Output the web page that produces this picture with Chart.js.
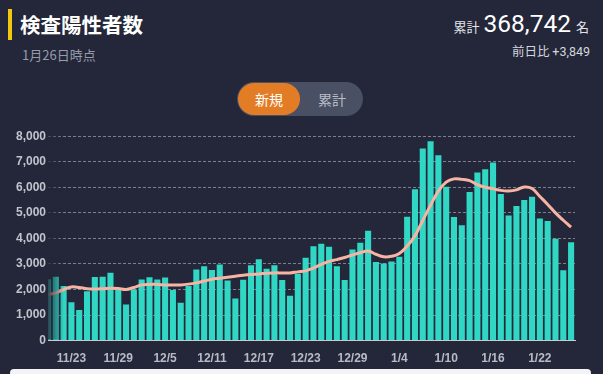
<!DOCTYPE html>
<html lang="ja">
<head>
<meta charset="utf-8">
<script src="https://cdn.jsdelivr.net/npm/chart.js@4/dist/chart.umd.min.js"></script>
<style>
  html, body { margin: 0; padding: 0; }
  body {
    width: 603px; height: 374px; overflow: hidden; position: relative;
    background: #232739;
    font-family: "Noto Sans CJK JP", "Noto Sans", sans-serif;
  }
  .bar { position: absolute; left: 8px; top: 9px; width: 4px; height: 31px; background: #f2c80f; }
  .title { position: absolute; left: 20px; top: 8px; font-size: 20.5px; font-weight: bold; color: #fff; line-height: 32px; }
  .date { position: absolute; left: 22px; top: 46px; font-size: 13px; color: #979cab; line-height: 18px; }
  .total { position: absolute; right: 14px; top: 8px; color: #fff; white-space: nowrap; line-height: 32px; }
  .total .s { font-size: 13px; color: #e3e5ea; }
  .total .n { font-family: Roboto, "Liberation Sans", sans-serif; font-size: 24.5px; margin: 0 5px 0 4px; }
  .diff { position: absolute; right: 13px; top: 41px; font-size: 12.5px; color: #d3d6dd; line-height: 20px; }
  .diff span { font-family: Roboto, "Liberation Sans", sans-serif; }
  .toggle { position: absolute; left: 237px; top: 82px; width: 126px; height: 34px; border-radius: 17px; background: #4a5064; }
  .toggle div { position: absolute; top: 1px; height: 32px; line-height: 32px; font-size: 14px; text-align: center; border-radius: 16px; }
  .on { left: 1px; width: 62px; background: #e27d25; color: #fff; }
  .off { left: 66px; width: 58px; color: #b9bdc8; }
  .wrap { position: absolute; left: 0; top: 127px; width: 603px; height: 246px; }
  .foot { position: absolute; left: 10px; top: 369px; width: 581px; height: 10px; background: #f3f3f6; border-radius: 4px 4px 0 0; }
</style>
</head>
<body>
<div class="bar"></div>
<div class="title">検査陽性者数</div>
<div class="date">1月26日時点</div>
<div class="total"><span class="s">累計</span><span class="n">368,742</span><span class="s">名</span></div>
<div class="diff">前日比 <span>+3,849</span></div>
<div class="toggle"><div class="on">新規</div><div class="off">累計</div></div>
<div class="wrap"><canvas id="chart"></canvas></div>
<div class="foot"></div>
<script>
const dates = ['11/20', '11/21', '11/22', '11/23', '11/24', '11/25', '11/26', '11/27', '11/28', '11/29', '11/30',
  '12/1', '12/2', '12/3', '12/4', '12/5', '12/6', '12/7', '12/8', '12/9', '12/10', '12/11', '12/12', '12/13',
  '12/14', '12/15', '12/16', '12/17', '12/18', '12/19', '12/20', '12/21', '12/22', '12/23', '12/24', '12/25',
  '12/26', '12/27', '12/28', '12/29', '12/30', '12/31', '1/1', '1/2', '1/3', '1/4', '1/5', '1/6', '1/7', '1/8',
  '1/9', '1/10', '1/11', '1/12', '1/13', '1/14', '1/15', '1/16', '1/17', '1/18', '1/19', '1/20', '1/21', '1/22',
  '1/23', '1/24', '1/25', '1/26'];

const cases = [2400, 2500, 2140, 1500, 1200, 1930, 2490, 2500, 2660, 2010, 1410,
  2000, 2390, 2480, 2390, 2470, 1980, 1480, 2140, 2780, 2910, 2760, 2980, 2350,
  1650, 2380, 2950, 3180, 2810, 2950, 2370, 1760, 2620, 3240, 3690, 3790,
  3670, 2910, 2370, 3570, 3830, 4300, 3080, 3020, 3100, 3280, 4850, 5920, 7520, 7800,
  7250, 6020, 4840, 4510, 5820, 6580, 6710, 6970, 5740, 4900, 5270, 5500, 5630, 4780,
  4680, 3990, 2750, 3849];

// 7日移動平均
const average = [1800, 1870, 2000, 2100, 2080, 2030, 2020, 2030, 2050, 2040, 2000,
  2080, 2180, 2200, 2200, 2180, 2180, 2180, 2210, 2260, 2330, 2400, 2440, 2480,
  2520, 2560, 2590, 2610, 2640, 2650, 2650, 2650, 2690, 2730, 2840, 2980,
  3100, 3170, 3250, 3350, 3440, 3510, 3380, 3280, 3300, 3410, 3700, 4100, 4700, 5300,
  5850, 6200, 6330, 6310, 6260, 6100, 6000, 5940, 5880, 5860, 5900, 6010, 5950, 5640,
  5330, 5000, 4710, 4440];

const tickDays = ['11/23', '11/29', '12/5', '12/11', '12/17', '12/23', '12/29', '1/4', '1/10', '1/16', '1/22'];
const yTicks = [0, 1000, 2000, 3000, 4000, 5000, 6000, 7000, 8000];

const bg = '35,39,57';

// left edge fade (scrolled chart)
const fade = {
  id: 'fade',
  afterDatasetsDraw(chart) {
    const { ctx, chartArea: a } = chart;
    const g = ctx.createLinearGradient(a.left, 0, a.left + 16, 0);
    g.addColorStop(0, 'rgba(' + bg + ',0.8)');
    g.addColorStop(1, 'rgba(' + bg + ',0)');
    ctx.save();
    ctx.fillStyle = g;
    ctx.fillRect(a.left - 1, a.top, 17, a.bottom - a.top - 1);
    ctx.restore();
  }
};

const ctx = document.getElementById('chart');
new Chart(ctx, {
  type: 'bar',
  data: {
    datasets: [{
      type: 'line',
      label: '7日移動平均',
      data: average.map((v, i) => ({ x: i, y: v })),
      borderColor: '#f7b4a4',
      borderWidth: 3,
      pointRadius: 0,
      tension: 0.4,
      fill: false,
      order: 0
    }, {
      label: '新規',
      data: cases.map((v, i) => ({ x: i, y: v })),
      backgroundColor: '#30d7c4',
      barPercentage: 0.78,
      categoryPercentage: 1,
      order: 1
    }]
  },
  options: {
    responsive: true,
    maintainAspectRatio: false,
    animation: false,
    layout: { padding: { top: 3, right: 28, bottom: 4, left: 0 } },
    plugins: { legend: { display: false }, tooltip: { enabled: false } },
    scales: {
      x: {
        type: 'linear',
        min: 0,
        max: 67.5,
        offset: false,
        grid: { display: false, offset: false },
        border: { display: true, color: '#c9ccd4', width: 1 },
        afterBuildTicks: s => { s.ticks = tickDays.map(d => ({ value: dates.indexOf(d) })); },
        ticks: {
          autoSkip: false,
          maxRotation: 0,
          padding: 3,
          color: '#b7bbc6',
          font: { family: 'Liberation Sans', size: 12, weight: 'bold' },
          callback: v => dates[v]
        }
      },
      y: {
        min: 0,
        max: 8000,
        afterFit: s => { s.width = 48; },
        afterBuildTicks: s => { s.ticks = yTicks.map(v => ({ value: v })); },
        grid: { color: 'rgba(200,204,214,0.55)', drawTicks: false, lineWidth: 1 },
        border: { display: false, dash: [3, 2] },
        ticks: {
          padding: 2,
          color: '#c0c4cd',
          font: { family: 'Liberation Sans', size: 12, weight: 'bold' },
          callback: v => v.toLocaleString('en-US')
        }
      }
    }
  },
  plugins: [fade]
});
</script>
</body>
</html>
